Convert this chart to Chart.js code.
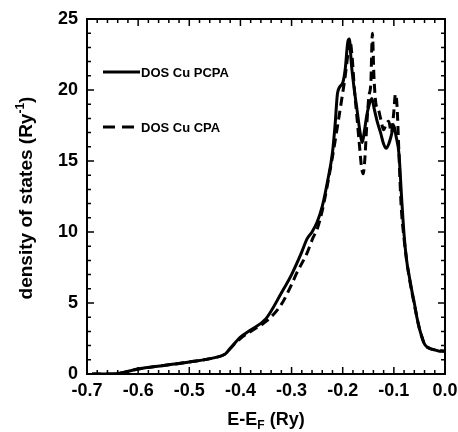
<!DOCTYPE html>
<html>
<head>
<meta charset="utf-8">
<script src="https://cdn.jsdelivr.net/npm/chart.js@4/dist/chart.umd.min.js"></script>
<style>
body{margin:0;background:#fff;}
canvas{display:block;}
</style>
</head>
<body>
<canvas id="dosChart" width="458" height="432"></canvas>
<script>
// energies (Ry) and DOS values
var pcpaE=[-0.69,-0.65,-0.60,-0.55,-0.50,-0.45,-0.43,-0.42,-0.40,-0.38,-0.35,-0.32,-0.30,-0.28,-0.27,-0.26,-0.25,-0.24,-0.23,-0.22,-0.215,-0.21,-0.20,-0.195,-0.19,-0.187,-0.183,-0.178,-0.172,-0.166,-0.162,-0.158,-0.153,-0.148,-0.143,-0.138,-0.132,-0.126,-0.12,-0.115,-0.11,-0.105,-0.10,-0.096,-0.09,-0.085,-0.08,-0.075,-0.07,-0.065,-0.06,-0.055,-0.05,-0.045,-0.04,-0.035,-0.03,-0.02,-0.01,0.0];
var pcpaDos=[0,0,0.35,0.6,0.85,1.15,1.4,1.8,2.6,3.1,3.9,5.7,7.0,8.6,9.5,10.0,10.7,11.8,13.5,15.6,17.5,19.8,20.5,21.5,23.4,23.6,21.8,20.2,18.6,17.0,16.3,17.0,18.2,19.0,19.4,18.6,17.7,17.0,16.2,15.9,16.2,16.8,17.5,16.8,15.5,12.5,9.8,8.0,6.9,5.9,5.0,4.0,3.2,2.6,2.1,1.9,1.8,1.7,1.6,1.6];

var cpaE=[-0.69,-0.65,-0.60,-0.55,-0.50,-0.45,-0.43,-0.42,-0.40,-0.38,-0.35,-0.32,-0.30,-0.29,-0.27,-0.258,-0.25,-0.24,-0.23,-0.22,-0.21,-0.20,-0.195,-0.19,-0.186,-0.182,-0.177,-0.172,-0.167,-0.163,-0.16,-0.157,-0.153,-0.149,-0.145,-0.142,-0.139,-0.135,-0.13,-0.126,-0.12,-0.115,-0.11,-0.105,-0.10,-0.097,-0.094,-0.09,-0.086,-0.08,-0.075,-0.07,-0.06,-0.05,-0.04,-0.03,-0.02,0.0];
var cpaDos=[0,0,0.35,0.6,0.85,1.15,1.4,1.8,2.5,3.0,3.7,4.9,6.3,7.1,8.5,9.6,10.2,11.5,13.3,15.3,17.5,19.8,21.0,22.5,23.5,22.5,20.0,18.0,16.0,14.5,14.1,15.0,17.5,19.5,20.5,24.0,21.0,19.0,18.6,18.0,17.2,17.6,17.8,17.0,18.5,19.7,19.0,15.5,12.0,9.5,8.0,6.8,4.9,3.2,2.1,1.8,1.7,1.6];

var xTicks=[-0.7,-0.6,-0.5,-0.4,-0.3,-0.2,-0.1,0.0];
var yTicks=[0,5,10,15,20,25];
var seriesNames=['DOS Cu PCPA','DOS Cu CPA'];

var FONT='"Liberation Sans", Arial, sans-serif';

function toPoints(xs,ys){
	var pts=[];
	for(var i=0;i<xs.length;i++){
		pts.push({x:xs[i],y:ys[i]});
	}
	return pts;
}

var framePlugin={
	id:'framePlugin',
	afterDraw:function(chart){
		var ctx=chart.ctx;
		var a=chart.chartArea;
		var xs=chart.scales.x;
		var ys=chart.scales.y;
		ctx.save();
		ctx.strokeStyle='#000';
		ctx.lineWidth=2;
		ctx.strokeRect(a.left,a.top,a.right-a.left,a.bottom-a.top);

		// inward ticks on all four sides
		ctx.lineWidth=1.5;
		ctx.beginPath();
		for(var i=0;i<=35;i++){
			var px=xs.getPixelForValue(-0.7+i*0.02);
			var len=(i%5==0)?7:4;
			ctx.moveTo(px,a.bottom);ctx.lineTo(px,a.bottom-len);
			ctx.moveTo(px,a.top);ctx.lineTo(px,a.top+len);
		}
		for(var j=0;j<=25;j++){
			var py=ys.getPixelForValue(j);
			var len2=(j%5==0)?7:4;
			ctx.moveTo(a.left,py);ctx.lineTo(a.left+len2,py);
			ctx.moveTo(a.right,py);ctx.lineTo(a.right-len2,py);
		}
		ctx.stroke();

		// legend
		var ds=chart.data.datasets;
		var rows=[72,127];
		for(var k=0;k<ds.length;k++){
			ctx.beginPath();
			ctx.lineWidth=3;
			ctx.setLineDash(k==0?[]:[12,7]);
			ctx.moveTo(103,rows[k]);
			ctx.lineTo(k==0?140:135,rows[k]);
			ctx.stroke();
			ctx.setLineDash([]);
			ctx.fillStyle='#000';
			ctx.font='bold 13px '+FONT;
			ctx.textBaseline='middle';
			ctx.textAlign='left';
			ctx.fillText(ds[k].label,141,rows[k]+1);
		}

		// x title with subscript
		ctx.textBaseline='alphabetic';
		var t1='E-E', t3=' (Ry)';
		ctx.font='bold 12px '+FONT;
		var wF=ctx.measureText('F').width;
		ctx.font='bold 18px '+FONT;
		var w1=ctx.measureText(t1).width, w3=ctx.measureText(t3).width;
		var x0=(a.left+a.right)/2-(w1+wF+w3)/2;
		var base=425;
		ctx.fillText(t1,x0,base);
		ctx.fillText(t3,x0+w1+wF,base);
		ctx.font='bold 12px '+FONT;
		ctx.fillText('F',x0+w1,base+4);

		// y title with superscript
		ctx.translate(32,198);
		ctx.rotate(-Math.PI/2);
		var s1='density of states (Ry', s3=')';
		ctx.font='bold 12px '+FONT;
		var wS=ctx.measureText('-1').width;
		ctx.font='bold 19px '+FONT;
		var ws1=ctx.measureText(s1).width, ws3=ctx.measureText(s3).width;
		var y0=-(ws1+wS+ws3)/2;
		ctx.fillText(s1,y0,0);
		ctx.fillText(s3,y0+ws1+wS,0);
		ctx.font='bold 12px '+FONT;
		ctx.fillText('-1',y0+ws1,-8);
		ctx.restore();
	}
};

var dosChart=new Chart(document.getElementById('dosChart').getContext('2d'),{
	type:'line',
	data:{
		datasets:[{
			label:seriesNames[0],
			data:toPoints(pcpaE,pcpaDos),
			borderColor:'#000',
			borderWidth:3,
			pointRadius:0,
			fill:false,
			cubicInterpolationMode:'monotone'
		},{
			label:seriesNames[1],
			data:toPoints(cpaE,cpaDos),
			borderColor:'#000',
			borderWidth:3,
			borderDash:[9,5],
			pointRadius:0,
			fill:false,
			cubicInterpolationMode:'monotone'
		}]
	},
	options:{
		responsive:false,
		animation:false,
		layout:{padding:{left:0,right:13,top:19,bottom:0}},
		plugins:{
			legend:{display:false},
			tooltip:{enabled:false}
		},
		scales:{
			x:{
				type:'linear',
				min:-0.7,
				max:0,
				grid:{display:false,drawTicks:false},
				border:{display:false},
				afterBuildTicks:function(scale){
					scale.ticks=xTicks.map(function(v){return {value:v};});
				},
				afterFit:function(scale){
					scale.height=58;
					scale.paddingLeft=0;scale.paddingRight=0;
					scale.paddingTop=0;scale.paddingBottom=0;
				},
				ticks:{
					color:'#000',
					padding:6,
					maxRotation:0,
					font:{family:FONT,size:18,weight:'bold'},
					callback:function(v){return Number(v).toFixed(1);}
				}
			},
			y:{
				type:'linear',
				min:0,
				max:25,
				grid:{display:false,drawTicks:false},
				border:{display:false},
				afterBuildTicks:function(scale){
					scale.ticks=yTicks.map(function(v){return {value:v};});
				},
				afterFit:function(scale){
					scale.width=87;
					scale.paddingLeft=0;scale.paddingRight=0;
					scale.paddingTop=0;scale.paddingBottom=0;
				},
				ticks:{
					color:'#000',
					padding:9,
					font:{family:FONT,size:18,weight:'bold'}
				}
			}
		}
	},
	plugins:[framePlugin]
});
</script>
</body>
</html>
